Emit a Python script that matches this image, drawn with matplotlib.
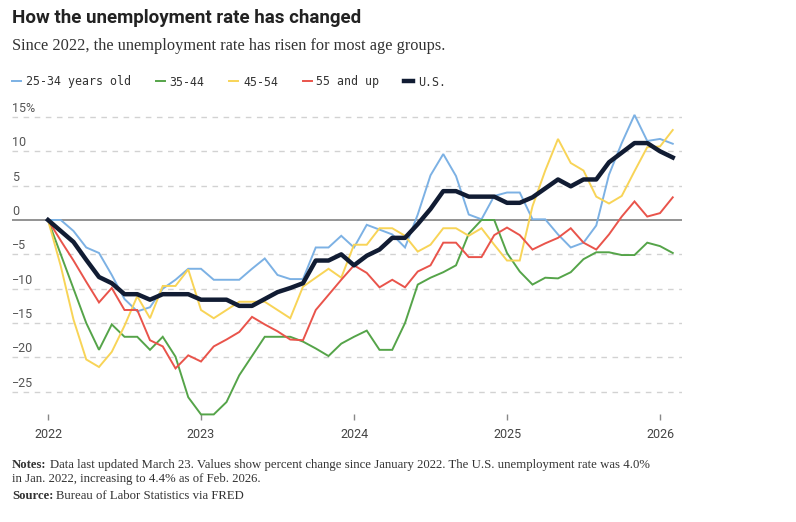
"""Recreate the 'How the unemployment rate has changed' line chart."""
from __future__ import annotations

import matplotlib

matplotlib.use("Agg")
import matplotlib.pyplot as plt
import matplotlib.transforms as mtransforms

# Percent change in the unemployment rate since January 2022, monthly Jan 2022 - Feb 2026.
AGE_25_34 = [
    0, 0, -1.6, -4.0, -4.8, -8.0, -11.5, -13.3, -12.7, -10.0,
    -8.7, -7.1, -7.1, -8.7, -8.7, -8.7, -7.1, -5.6, -8.0, -8.6,
    -8.6, -4.0, -4.0, -2.3, -4.0, -0.7, -1.4, -2.1, -4.0, 0.8,
    6.5, 9.6, 6.4, 0.8, 0.1, 3.5, 4.0, 4.0, 0.1, 0.1,
    -2.1, -4.0, -3.3, -0.8, 6.6, 11.2, 15.3, 11.5, 11.8, 11.1,
]
AGE_35_44 = [
    0, -5.0, -10.0, -15.0, -18.9, -15.2, -17.0, -17.0, -18.9, -17.0,
    -19.9, -25.8, -28.3, -28.3, -26.5, -22.6, -19.8, -17.0, -17.0, -17.0,
    -17.7, -18.7, -19.8, -18.0, -17.0, -16.1, -18.9, -18.9, -15.0, -9.4,
    -8.4, -7.6, -6.6, -2.0, 0, 0, -4.8, -7.5, -9.4, -8.4,
    -8.5, -7.6, -5.7, -4.7, -4.7, -5.1, -5.1, -3.3, -3.8, -4.8,
]
AGE_45_54 = [
    0, -6.7, -14.5, -20.3, -21.4, -19.2, -15.4, -11.1, -14.3, -9.6,
    -9.6, -7.2, -13.1, -14.3, -13.1, -11.9, -11.9, -11.9, -13.1, -14.3,
    -9.7, -8.4, -7.1, -8.4, -3.6, -3.6, -1.2, -1.2, -2.3, -4.6,
    -3.6, -1.2, -1.2, -2.3, -1.2, -3.6, -5.9, -5.9, 2.0, 7.2,
    11.8, 8.3, 7.2, 3.4, 2.4, 3.5, 7.1, 10.6, 10.7, 13.1,
]
AGE_55_UP = [
    0, -3.0, -5.9, -9.0, -12.0, -9.9, -13.1, -13.1, -17.5, -18.4,
    -21.6, -19.7, -20.6, -18.4, -17.4, -16.3, -14.1, -15.2, -16.2, -17.4,
    -17.5, -13.1, -10.9, -8.7, -6.6, -7.7, -9.8, -8.7, -9.8, -7.5,
    -6.6, -3.3, -3.3, -5.4, -5.4, -2.2, -1.1, -2.2, -4.3, -3.4,
    -2.6, -1.2, -3.3, -4.3, -2.1, 0.5, 2.7, 0.5, 1.0, 3.3,
]
US_TOTAL = [
    0, -1.6, -3.2, -5.8, -8.3, -9.2, -10.8, -10.8, -11.6, -10.8,
    -10.8, -10.8, -11.6, -11.6, -11.6, -12.5, -12.5, -11.5, -10.5, -9.9,
    -9.2, -5.9, -5.9, -5.0, -6.6, -5.2, -4.3, -2.6, -2.6, -0.6,
    1.6, 4.2, 4.2, 3.4, 3.4, 3.4, 2.5, 2.5, 3.3, 4.6,
    5.9, 4.9, 5.9, 5.9, 8.4, 9.8, 11.2, 11.2, 10.0, 9.1,
]

SERIES_LABELS = ["25-34 years old", "35-44", "45-54", "55 and up", "U.S."]
YEAR_LABELS = ["2022", "2023", "2024", "2025", "2026"]
Y_TICKS = [15, 10, 5, 0, -5, -10, -15, -20, -25]

COLORS = ["#7cb1e4", "#55a449", "#f8d457", "#e9544b", "#111c33"]
WIDTHS = [1.4, 1.4, 1.4, 1.4, 3.2]

SANS = ["Roboto", "DejaVu Sans"]
SERIF = ["Liberation Serif", "DejaVu Serif"]
MONO = ["DejaVu Sans Mono"]


def main() -> None:
    fig = plt.figure(figsize=(7.96, 5.22), dpi=100)
    W, H = 796, 522

    def fx(px: float) -> float:
        return px / W

    def fy(py: float) -> float:
        return 1 - py / H

    ax = fig.add_axes([fx(12), fy(420), fx(682) - fx(12), fy(105) - fy(420)])
    months = list(range(len(US_TOTAL)))
    series = [AGE_25_34, AGE_35_44, AGE_45_54, AGE_55_UP, US_TOTAL]
    for values, label, color, lw in zip(series, SERIES_LABELS, COLORS, WIDTHS):
        ax.plot(months, values, color=color, lw=lw, label=label,
                solid_joinstyle="miter" if lw < 2 else "round", clip_on=False,
                zorder=4 if lw > 2 else 3)

    ax.set_xlim(-36 / 12.75, (682 - 48) / 12.75)
    ax.set_ylim((220 - 420) / 6.87, (220 - 105) / 6.87)

    for v in Y_TICKS:
        if v == 0:
            ax.axhline(0, color="#8a8a8a", lw=1.3, zorder=2)
        else:
            ax.axhline(v, color="#d2d2d2", lw=1.0, ls=(0, (4, 4)), zorder=1)

    label_tf = mtransforms.blended_transform_factory(ax.transAxes, ax.transData)
    for v in Y_TICKS:
        text = f"{v}%" if v == 15 else (f"\u2212{abs(v)}" if v < 0 else f"{v}")
        ax.text(0, v + 0.3, text, transform=label_tf, ha="left", va="bottom",
                fontsize=9, color="#555555", family=SANS)

    for side in ["top", "right", "left", "bottom"]:
        ax.spines[side].set_visible(False)
    ax.set_yticks([])
    ax.set_xticks([0, 12, 24, 36, 48])
    ax.set_xticklabels(YEAR_LABELS, fontsize=9, color="#444444", family=SANS)
    ax.tick_params(axis="x", direction="in", length=4, width=1, color="#888888", pad=6)

    leg = ax.legend(loc="center left", bbox_to_anchor=(fx(12), fy(82)),
                    bbox_transform=fig.transFigure, ncol=5, frameon=False,
                    borderpad=0, borderaxespad=0,
                    handlelength=0.8, handletextpad=0.4, columnspacing=2.1,
                    prop={"family": MONO, "size": 8.4})
    for text in leg.get_texts():
        text.set_color("#333333")

    fig.text(fx(12), fy(23), "How the unemployment rate has changed",
             fontsize=13.5, fontweight="bold", color="#222222", family=SANS, va="baseline")
    fig.text(fx(12), fy(50), "Since 2022, the unemployment rate has risen for most age groups.",
             fontsize=11.8, color="#333333", family=SERIF, va="baseline")

    renderer = fig.canvas.get_renderer()
    note_lines = [
        ("Notes:", "Data last updated March 23. Values show percent change since January 2022. "
                   "The U.S. unemployment rate was 4.0%", 468),
        ("", "in Jan. 2022, increasing to 4.4% as of Feb. 2026.", 482),
        ("Source:", "Bureau of Labor Statistics via FRED", 499),
    ]
    for bold, body, ypx in note_lines:
        x = fx(12)
        if bold:
            b = fig.text(x, fy(ypx), bold, fontsize=9.2, fontweight="bold",
                         color="#333333", family=SERIF, va="baseline")
            x += b.get_window_extent(renderer).width / W + fx(3)
        fig.text(x, fy(ypx), body, fontsize=9.2, color="#333333", family=SERIF, va="baseline")

    fig.savefig("out.png", dpi=100)
    plt.close(fig)


if __name__ == "__main__":
    main()
